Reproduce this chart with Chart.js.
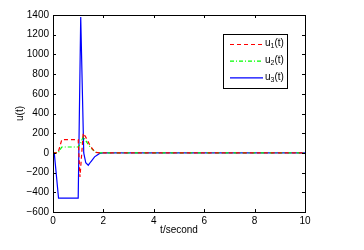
<!DOCTYPE html>
<html>
<head>
<meta charset="utf-8">
<script src="https://cdn.jsdelivr.net/npm/chart.js@4/dist/chart.umd.min.js"></script>
<style>
  html, body { margin: 0; padding: 0; background: #fff; }
  #wrap { width: 364px; height: 250px; }
</style>
</head>
<body>
<div id="wrap"><canvas id="lineChart" width="364" height="250"></canvas></div>
<script>
// values
const t1 = [0, 0.2, 0.35, 1.0, 1.07, 1.2, 1.3, 1.47, 1.67, 1.9, 10];
const u1 = [0, 0, 135, 135, -245, 200, 160, 75, 5, 0, 0];

const t2 = [0, 0.2, 0.35, 1.0, 1.1, 1.2, 1.4, 1.55, 1.7, 1.9, 10];
const u2 = [0, 0, 60, 60, 100, 165, 85, 40, 5, 0, 0];

const t3 = [0, 0.05, 0.22, 1.0, 1.1, 1.22, 1.3, 1.4, 1.5, 1.65, 1.85, 2.0, 10];
const u3 = [0, 0, -460, -460, 1380, 0, -100, -125, -90, -40, -5, 0, 0];

const xTicks = [0, 2, 4, 6, 8, 10];
const yTicks = [-600, -400, -200, 0, 200, 400, 600, 800, 1000, 1200, 1400];

const seriesNames = ['1', '2', '3'];

function toPoints(xs, ys) {
  return xs.map((x, i) => ({ x: x, y: ys[i] }));
}

const fontFam = '"Liberation Sans", Arial, Helvetica, sans-serif';

// MATLAB style box with inward ticks, plus legend
const boxPlugin = {
  id: 'boxPlugin',
  afterDraw(chart) {
    const ctx = chart.ctx;
    const a = chart.chartArea;
    const xs = chart.scales.x;
    const ys = chart.scales.y;
    ctx.save();
    ctx.strokeStyle = '#000';
    ctx.lineWidth = 1;
    ctx.beginPath();
    xTicks.forEach(v => {
      const px = Math.round(xs.getPixelForValue(v)) + 0.5;
      ctx.moveTo(px, a.bottom); ctx.lineTo(px, a.bottom - 3);
      ctx.moveTo(px, a.top); ctx.lineTo(px, a.top + 3);
    });
    yTicks.forEach(v => {
      const py = Math.round(ys.getPixelForValue(v)) + 0.5;
      ctx.moveTo(a.left, py); ctx.lineTo(a.left + 3, py);
      ctx.moveTo(a.right, py); ctx.lineTo(a.right - 3, py);
    });
    ctx.stroke();
    ctx.strokeRect(Math.round(a.left) + 0.5, Math.round(a.top) + 0.5,
      Math.round(a.right - a.left), Math.round(a.bottom - a.top));

    // legend
    const lx = 223.5, ly = 34.5, lw = 64, lh = 54;
    ctx.fillStyle = '#fff';
    ctx.fillRect(lx, ly, lw, lh);
    ctx.strokeRect(lx, ly, lw, lh);
    chart.data.datasets.forEach((ds, i) => {
      const y = 44.5 + i * 16.7;
      ctx.strokeStyle = ds.borderColor;
      ctx.lineWidth = 1.2;
      ctx.setLineDash(ds.borderDash || []);
      ctx.beginPath();
      ctx.moveTo(230, y);
      ctx.lineTo(263, y);
      ctx.stroke();
      ctx.setLineDash([]);
      ctx.fillStyle = '#000';
      ctx.textBaseline = 'middle';
      ctx.textAlign = 'left';
      ctx.font = '10px ' + fontFam;
      ctx.fillText('u', 265, y - 1);
      let w = ctx.measureText('u').width;
      ctx.font = '7px ' + fontFam;
      ctx.fillText(seriesNames[i], 265 + w, y + 2);
      w += ctx.measureText(seriesNames[i]).width;
      ctx.font = '10px ' + fontFam;
      ctx.fillText('(t)', 265 + w, y - 1);
    });
    ctx.restore();
  }
};

const ctx = document.getElementById('lineChart').getContext('2d');
const myLineChart = new Chart(ctx, {
  type: 'line',
  data: {
    datasets: [
      { label: 'u1(t)', data: toPoints(t1, u1), borderColor: '#ff0000', borderWidth: 1.2, borderDash: [4, 3] },
      { label: 'u2(t)', data: toPoints(t2, u2), borderColor: '#00ff00', borderWidth: 1.2, borderDash: [4, 2, 1, 2] },
      { label: 'u3(t)', data: toPoints(t3, u3), borderColor: '#0000ff', borderWidth: 1.2 }
    ]
  },
  options: {
    responsive: false,
    animation: false,
    events: [],
    elements: { point: { radius: 0 }, line: { tension: 0 } },
    layout: { padding: { left: 0, right: 59, top: 15, bottom: 0 } },
    plugins: { legend: { display: false }, tooltip: { enabled: false } },
    scales: {
      x: {
        type: 'linear',
        min: 0, max: 10,
        afterFit(scale) { scale.height = 38; },
        afterBuildTicks(scale) { scale.ticks = xTicks.map(v => ({ value: v })); },
        grid: { display: false, drawTicks: false },
        border: { display: false },
        ticks: { color: '#000', font: { family: fontFam, size: 10 }, padding: 3, maxRotation: 0 },
        title: { display: true, text: 't/second', color: '#000', font: { family: fontFam, size: 10 }, padding: { top: 0, bottom: 14 } }
      },
      y: {
        type: 'linear',
        min: -600, max: 1400,
        afterFit(scale) { scale.width = 53; },
        afterBuildTicks(scale) { scale.ticks = yTicks.map(v => ({ value: v })); },
        grid: { display: false, drawTicks: false },
        border: { display: false },
        ticks: {
          color: '#000', font: { family: fontFam, size: 10 }, padding: 4,
          callback: v => (v < 0 ? '\u2212' + Math.abs(v) : String(v))
        },
        title: { display: true, text: 'u(t)', color: '#000', font: { family: fontFam, size: 10 }, padding: { top: 14, bottom: 0 } }
      }
    }
  },
  plugins: [boxPlugin]
});
</script>
</body>
</html>
